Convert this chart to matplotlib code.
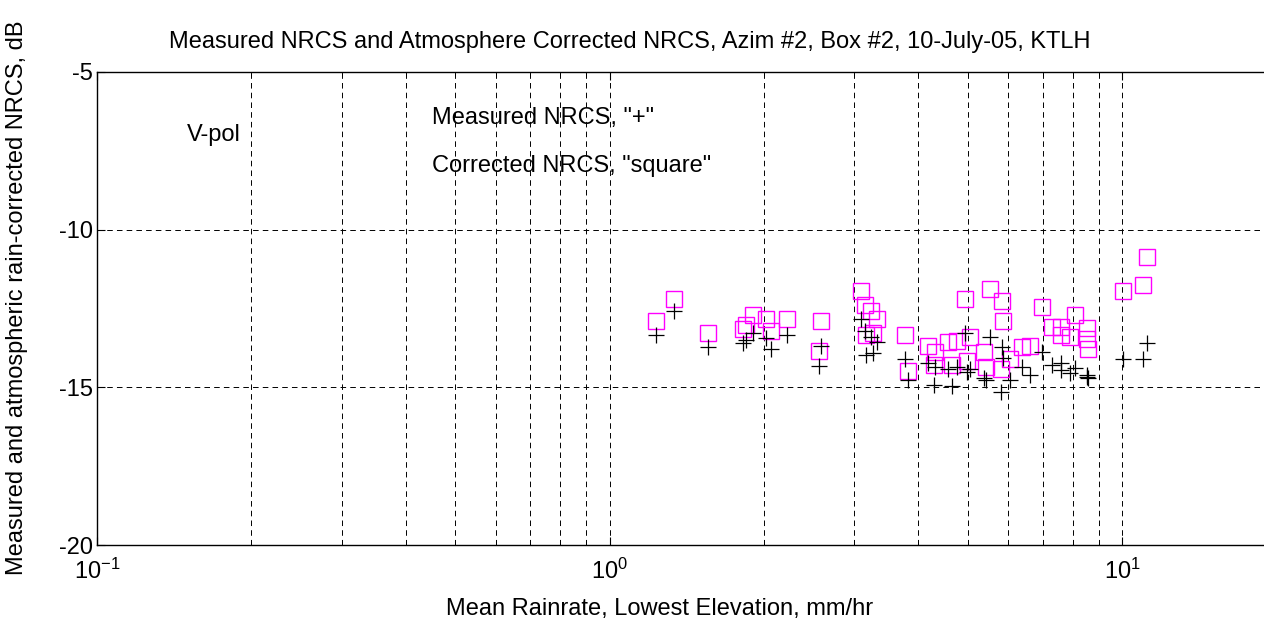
import matplotlib
matplotlib.use("Agg")
import matplotlib.pyplot as plt
from matplotlib.ticker import LogLocator, FixedLocator

plt.rcParams['font.family'] = ['Liberation Sans', 'DejaVu Sans']
plt.rcParams['lines.scale_dashes'] = False

# mean rain rate (mm/hr) at each sample
rainrate = [1.233, 1.336, 1.556, 1.821, 1.848, 1.901, 2.022, 2.062, 2.215, 2.581,
            2.563, 3.099, 3.155, 3.241, 3.330, 3.16, 3.266, 3.777, 3.816, 4.174,
            4.321, 4.288, 4.566, 4.764, 4.945, 5.041, 4.658, 4.983, 5.370, 5.516,
            5.834, 5.85, 5.428, 5.789, 6.053, 6.379, 6.600, 6.982, 7.303, 7.580,
            7.6, 7.903, 8.072, 8.519, 8.55, 8.584, 10.03, 10.97, 11.17]

# measured NRCS, dB ("+")
measured = [-13.34, -12.57, -13.73, -13.59, -13.50, -13.29, -13.43, -13.79, -13.34, -13.68,
            -14.32, -12.84, -13.21, -13.40, -13.55, -13.98, -13.92, -14.11, -14.77, -14.22,
            -14.35, -14.93, -14.43, -14.35, -13.29, -14.43, -14.96, -14.51, -14.71, -13.40,
            -13.73, -14.08, -14.77, -15.14, -14.77, -14.35, -14.61, -13.87, -14.29, -14.24,
            -14.45, -14.56, -14.40, -14.61, -14.66, -14.71, -14.10, -14.11, -13.60]

# atmosphere corrected NRCS, dB ("square")
corrected = [-12.89, -12.19, -13.29, -13.14, -13.02, -12.70, -12.83, -13.22, -12.83, -12.89,
             -13.85, -11.94, -12.39, -12.57, -12.83, -13.34, -13.29, -13.34, -14.48, -13.68,
             -13.89, -14.29, -13.55, -13.53, -12.20, -13.41, -14.29, -14.16, -13.87, -11.88,
             -12.25, -12.90, -14.37, -14.42, -14.11, -13.73, -13.68, -12.44, -13.08, -13.08,
             -13.34, -13.40, -12.71, -13.13, -13.47, -13.79, -11.95, -11.76, -10.86]

yticks = [-20, -15, -10, -5]
fs = 17

fig = plt.figure(figsize=(12.64, 6.29), dpi=100)
ax = fig.add_axes([97 / 1264, 1 - 545 / 629, 1179.5 / 1264, 473 / 629])

ax.plot(rainrate, corrected, linestyle='none', marker='s', markersize=12,
        markerfacecolor='none', markeredgecolor='#ff00ff', markeredgewidth=1.0)
ax.plot(rainrate, measured, linestyle='none', marker='+', markersize=12,
        color='black', markeredgewidth=0.9)

ax.set_xscale('log')
ax.set_xlim(0.1, 20)
ax.set_ylim(-20, -5)
ax.set_yticks(yticks)
ax.set_yticklabels([str(t) for t in yticks])
ax.xaxis.set_major_locator(FixedLocator([0.1, 1, 10]))
ax.xaxis.set_minor_locator(LogLocator(base=10, subs=range(2, 10)))

grid_style = dict(color='black', linestyle=(0, (4.0, 3.0)), linewidth=0.7)
ax.grid(True, which='major', axis='both', **grid_style)
ax.grid(True, which='minor', axis='x', **grid_style)

ax.tick_params(which='both', direction='in', top=True, right=True, labelsize=fs)
ax.tick_params(axis='x', pad=10)
ax.tick_params(axis='y', pad=3)
ax.tick_params(which='major', length=6)
ax.tick_params(which='minor', length=3)
for s in ax.spines.values():
    s.set_linewidth(1.0)

ax.text(0.15, -7.0, 'V-pol', fontsize=fs, va='center', ha='left')
ax.text(0.45, -6.46, 'Measured NRCS, "+"', fontsize=fs, va='center', ha='left')
ax.text(0.45, -7.98, 'Corrected NRCS, "square"', fontsize=fs, va='center', ha='left')

fig.text(630 / 1264, 1 - 42 / 629,
         'Measured NRCS and Atmosphere Corrected NRCS, Azim #2, Box #2, 10-July-05, KTLH',
         fontsize=fs, ha='center', va='center')
fig.text(660 / 1264, 1 - 609 / 629, 'Mean Rainrate, Lowest Elevation, mm/hr',
         fontsize=fs, ha='center', va='center')
fig.text(17 / 1264, 1 - 298 / 629, 'Measured and atmospheric rain-corrected NRCS, dB',
         fontsize=fs, ha='center', va='center', rotation=90)

fig.savefig('out.png', dpi=100)
